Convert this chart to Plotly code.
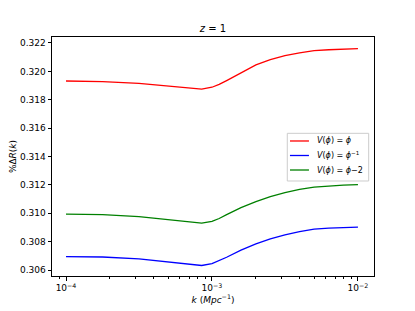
import plotly.graph_objects as go

k = [1.0e-4, 1.78e-4, 3.16e-4, 5.62e-4, 7.94e-4, 8.5e-4, 1.0e-3, 1.12e-3, 1.26e-3,
     1.58e-3, 2.0e-3, 2.51e-3, 3.16e-3, 3.98e-3, 5.01e-3, 6.31e-3, 7.94e-3, 1.0e-2]

v_phi = [0.31932, 0.31928, 0.31915, 0.31892, 0.31877, 0.31875, 0.31888, 0.31908, 0.31935,
         0.31990, 0.32045, 0.32082, 0.32110, 0.32130, 0.32146, 0.32152, 0.32157, 0.32160]
v_inv = [0.30695, 0.30692, 0.30678, 0.30652, 0.30636, 0.30632, 0.30645, 0.30665, 0.30690,
         0.30740, 0.30785, 0.30820, 0.30848, 0.30870, 0.30888, 0.30895, 0.30900, 0.30903]
v_m2 = [0.30994, 0.30990, 0.30976, 0.30950, 0.30934, 0.30930, 0.30943, 0.30963, 0.30990,
        0.31040, 0.31082, 0.31118, 0.31146, 0.31168, 0.31184, 0.31192, 0.31198, 0.31202]

labels = ["<i>V</i>(<i>ϕ</i>) = <i>ϕ</i>",
          "<i>V</i>(<i>ϕ</i>) = <i>ϕ</i><sup>−1</sup>",
          "<i>V</i>(<i>ϕ</i>) = <i>ϕ</i>−2"]
colors = ["red", "blue", "green"]
series = [v_phi, v_inv, v_m2]

ytick_vals = [0.306, 0.308, 0.310, 0.312, 0.314, 0.316, 0.318, 0.320, 0.322]
xtick_vals = [1e-4, 1e-3, 1e-2]
xtick_text = ["10<sup>−4</sup>", "10<sup>−3</sup>", "10<sup>−2</sup>"]

fig = go.Figure()
for lab, col, ys in zip(labels, colors, series):
    fig.add_trace(go.Scatter(x=k, y=ys, mode="lines", name=lab, showlegend=False,
                             line=dict(color=col, width=1.3)))

# legend drawn as a compact box (matplotlib style), in plot-area paper coords
leg_box = dict(x0=0.7307, x1=0.9835, y0=0.3975, y1=0.597)
leg_rows = [0.5649, 0.5042, 0.4435]
fig.add_shape(type="rect", xref="paper", yref="paper", layer="above",
              fillcolor="rgba(255,255,255,0.85)",
              line=dict(color="#cccccc", width=1), **leg_box)
for lab, col, ry in zip(labels, colors, leg_rows):
    fig.add_shape(type="line", xref="paper", yref="paper", layer="above",
                  x0=0.739, x1=0.798, y0=ry, y1=ry,
                  line=dict(color=col, width=1.3))
    fig.add_annotation(text=lab, xref="paper", yref="paper", x=0.8168, y=ry,
                       xanchor="left", yanchor="middle", showarrow=False,
                       font=dict(size=8, color="black"))

minor_vals = [m * 10.0 ** e for e in (-5, -4, -3, -2) for m in range(2, 10)]

W, H = 407, 303
fig.update_layout(
    width=W, height=H,
    margin=dict(l=44, r=41, t=29, b=35, autoexpand=False),
    paper_bgcolor="white", plot_bgcolor="white",
    font=dict(family="DejaVu Sans", size=9, color="black"),
    title=dict(text="<i>z</i> = 1", x=0.5, xanchor="center", xref="paper",
               y=1 - 20 / H, yanchor="middle", font=dict(size=10)),
    showlegend=False,
    xaxis=dict(type="log", range=[-4.096, -1.89], automargin=False,
               tickvals=xtick_vals, ticktext=xtick_text,
               showgrid=False, zeroline=False,
               showline=True, linecolor="black", linewidth=1, mirror=True,
               ticks="outside", ticklen=3.5, tickwidth=0.8, tickcolor="black",
               minor=dict(tickvals=minor_vals, ticks="outside", ticklen=2,
                          tickwidth=0.6, tickcolor="black", showgrid=False),
               title=dict(text="<i>k</i> (<i>Mpc</i><sup>−1</sup>)",
                          standoff=4, font=dict(size=9))),
    yaxis=dict(range=[0.30558, 0.32242], automargin=False,
               tickvals=ytick_vals,
               ticktext=[f"{v:.3f}" for v in ytick_vals],
               showgrid=False, zeroline=False,
               showline=True, linecolor="black", linewidth=1, mirror=True,
               ticks="outside", ticklen=3.5, tickwidth=0.8, tickcolor="black",
               title=dict(text="%Δ<i>R</i>(<i>k</i>)", standoff=4,
                          font=dict(size=9))),
)

fig.write_html("out.html")
